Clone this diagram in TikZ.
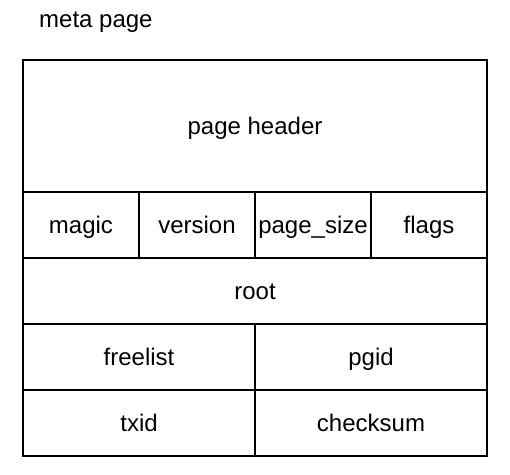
\documentclass[tikz,border=0pt]{standalone}
\usepackage{fontspec}
\setmainfont{Liberation Sans}
\usetikzlibrary{positioning}

\begin{document}
\begin{tikzpicture}[x=1pt,y=-1pt]
\tikzstyle{field}=[rectangle,draw,line width=1.6pt,inner sep=0pt,align=center,text height=20pt,text depth=4pt,font=\fontsize{24}{28}\selectfont]
\tikzstyle{quarter}=[field,minimum width=116pt,minimum height=66pt]
\tikzstyle{half}=[field,minimum width=232pt,minimum height=66pt]
\tikzstyle{full}=[field,minimum width=464pt,minimum height=66pt]
\useasboundingbox (0,0) rectangle (510,474);
\node (title) [anchor=base west,inner sep=0pt,font=\fontsize{24}{28}\selectfont] at (39,27) {meta page};
\node (header) [full,minimum height=132pt] at (255,126) {page header};
\node (magic) [quarter] at (81,225) {magic};
\node (version) [quarter] at (197,225) {version};
\node (pagesize) [quarter] at (313,225) {page\_size};
\node (flags) [quarter] at (429,225) {flags};
\node (root) [full] at (255,291) {root};
\node (freelist) [half] at (139,357) {freelist};
\node (pgid) [half] at (371,357) {pgid};
\node (txid) [half] at (139,423) {txid};
\node (checksum) [half] at (371,423) {checksum};
\end{tikzpicture}
\end{document}
